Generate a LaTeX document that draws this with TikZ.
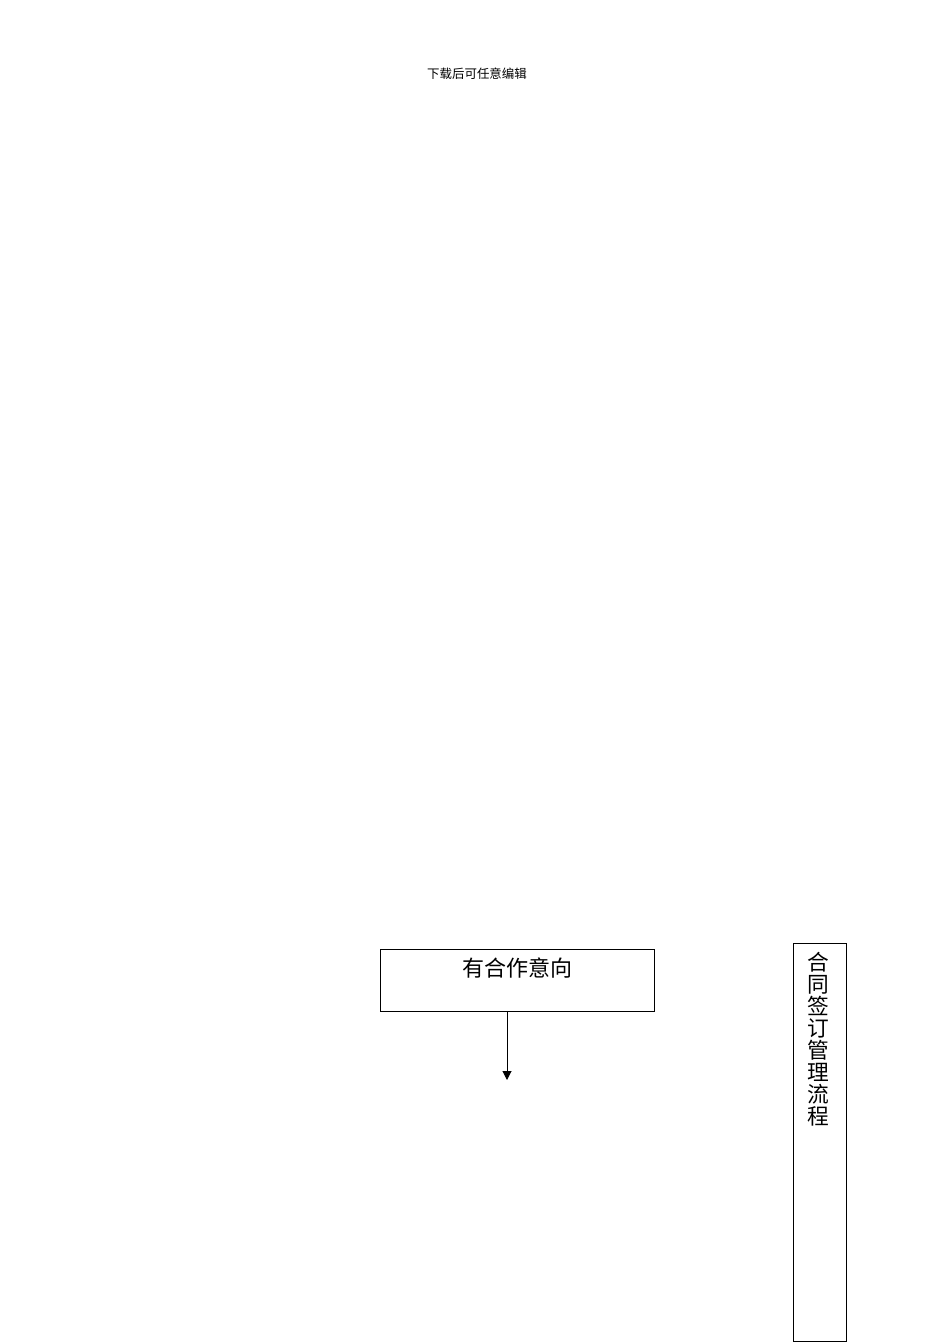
\documentclass[tikz,border=0pt]{standalone}
\usepackage{fontspec}
\setmainfont{Noto Sans CJK SC}
\usetikzlibrary{arrows.meta}
\setlength{\lineskiplimit}{-5pt}
\tikzstyle{area}=[draw, line width=0.6pt]
\tikzstyle{flow}=[line width=0.6pt, -{Triangle[length=5.5pt,width=5.5pt]}]

\begin{document}
\begin{tikzpicture}[x=0.6266pt, y=-0.6266pt]
	\useasboundingbox (0,0) rectangle (950,1344);
	\node (note) at (477,74) {\fontsize{7.8}{9}\selectfont 下载后可任意编辑};
	\node[area, anchor=north west, inner sep=0pt, minimum width=171.7pt,
		text height=16.9pt, text depth=21.9pt] (intent) at (380,949)
		{\fontsize{13.8}{14}\selectfont 有合作意向};
	\coordinate (tip) at (507,1080);
	\draw[flow] (intent.south -| tip) -- (tip);
	\node[area, anchor=north west, inner sep=0pt, minimum width=33pt,
		minimum height=249.6pt] (titlebar) at (793,943) {};
	\node[anchor=north, inner sep=0pt, align=center,
		font=\fontsize{13.6}{13.8}\selectfont] (title) at (818,952)
		{合\\同\\签\\订\\管\\理\\流\\程};
\end{tikzpicture}
\end{document}
